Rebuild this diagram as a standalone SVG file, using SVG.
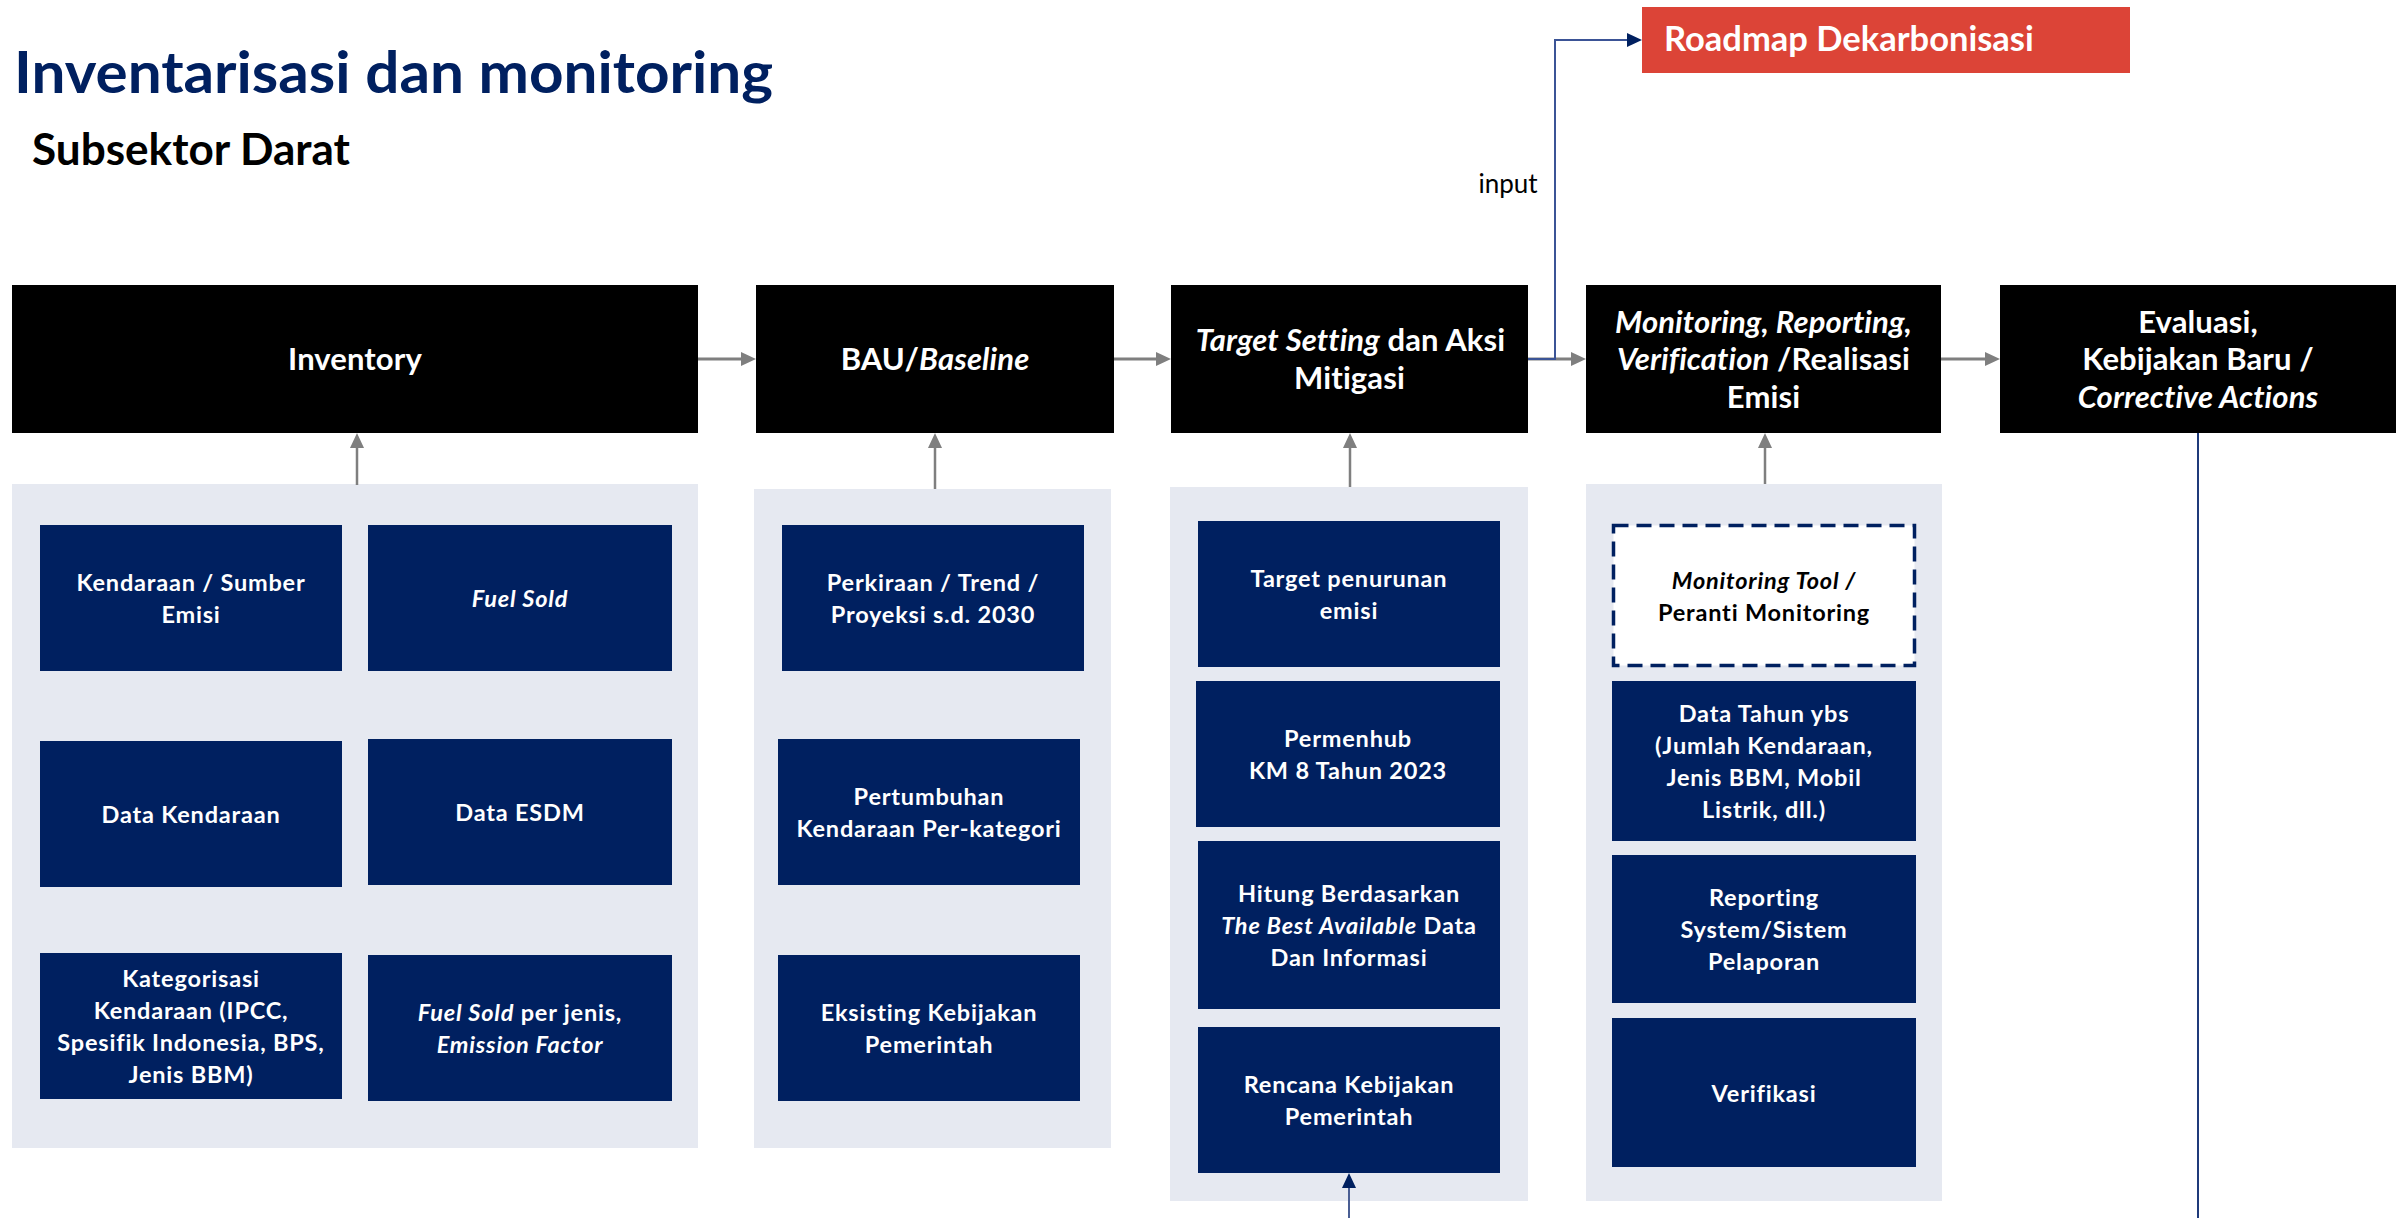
<svg xmlns="http://www.w3.org/2000/svg" width="2407" height="1218" viewBox="0 0 2407 1218">
<style>
  text{font-family:Lato,"Open Sans","Liberation Sans",sans-serif;font-weight:bold;}
  .hdr{fill:#000000;}
  .ht{fill:#ffffff;font-size:31px;letter-spacing:0.1px;text-anchor:middle;}
  .panel{fill:#E6E9F1;}
  .nb{fill:#002060;}
  .it{fill:#ffffff;font-size:23.5px;letter-spacing:0.8px;text-anchor:middle;}
  .i{font-style:italic;}
  .ga{stroke:#7F7F7F;stroke-width:3;fill:none;}
  .gu{stroke:#7F7F7F;stroke-width:2.5;fill:none;}
</style>
<defs>
  <marker id="mg" markerUnits="userSpaceOnUse" markerWidth="16" markerHeight="14" refX="1" refY="7" orient="auto">
    <path d="M0,0 L15,7 L0,14 z" fill="#7F7F7F"/>
  </marker>
  <marker id="mn" markerUnits="userSpaceOnUse" markerWidth="16" markerHeight="14" refX="1" refY="7" orient="auto">
    <path d="M0,0 L15,7 L0,14 z" fill="#002060"/>
  </marker>
</defs>
<rect width="2407" height="1218" fill="#ffffff"/>

<g id="title">
  <text x="14" y="93" font-size="58" fill="#002060" textLength="759" lengthAdjust="spacingAndGlyphs">Inventarisasi dan monitoring</text>
  <text x="32" y="165" font-size="43" fill="#000000" textLength="318" lengthAdjust="spacingAndGlyphs">Subsektor Darat</text>
</g>

<g id="panels">
  <rect class="panel" x="12" y="484" width="686" height="664"/>
  <rect class="panel" x="754" y="489" width="357" height="659"/>
  <rect class="panel" x="1170" y="487" width="358" height="714"/>
  <rect class="panel" x="1586" y="484" width="356" height="717"/>
</g>

<g id="connectors">
  <line class="ga" x1="698" y1="359" x2="742" y2="359" marker-end="url(#mg)"/>
  <line class="ga" x1="1114" y1="359" x2="1157" y2="359" marker-end="url(#mg)"/>
  <line class="ga" x1="1528" y1="359" x2="1572" y2="359" marker-end="url(#mg)"/>
  <line class="ga" x1="1941" y1="359" x2="1986" y2="359" marker-end="url(#mg)"/>
  <line class="gu" x1="357" y1="485" x2="357" y2="447" marker-end="url(#mg)"/>
  <line class="gu" x1="935" y1="489" x2="935" y2="447" marker-end="url(#mg)"/>
  <line class="gu" x1="1350" y1="487" x2="1350" y2="447" marker-end="url(#mg)"/>
  <line class="gu" x1="1765" y1="484" x2="1765" y2="447" marker-end="url(#mg)"/>
  <polyline points="1528,359 1555,359 1555,40 1628,40" fill="none" stroke="#3B5496" stroke-width="2" marker-end="url(#mn)"/>
  <line x1="2198" y1="433" x2="2198" y2="1218" stroke="#1F3A7A" stroke-width="2"/>
  <line x1="1349" y1="1218" x2="1349" y2="1187" stroke="#4A5E93" stroke-width="2" marker-end="url(#mn)"/>
</g>

<g id="label-input">
  <text x="1508" y="193" font-size="26" style="font-weight:normal" fill="#000000" text-anchor="middle">input</text>
</g>

<g id="roadmap">
  <rect x="1642" y="7" width="488" height="66" fill="#DC4437"/>
  <text x="1664" y="51" font-size="34.5" fill="#ffffff">Roadmap Dekarbonisasi</text>
</g>

<g id="inventory">
  <rect class="hdr" x="12" y="285" width="686" height="148"/>
  <text class="ht" x="355" y="370">Inventory</text>
</g>
<g id="bau">
  <rect class="hdr" x="756" y="285" width="358" height="148"/>
  <text class="ht" x="935" y="370">BAU/<tspan class="i">Baseline</tspan></text>
</g>
<g id="target">
  <rect class="hdr" x="1171" y="285" width="357" height="148"/>
  <text class="ht" x="1350.5" y="351"><tspan class="i">Target Setting</tspan> dan Aksi</text>
  <text class="ht" x="1349.5" y="389">Mitigasi</text>
</g>
<g id="mrv">
  <rect class="hdr" x="1586" y="285" width="355" height="148"/>
  <text class="ht i" x="1763.5" y="332.5">Monitoring, Reporting,</text>
  <text class="ht" x="1763.5" y="370"><tspan class="i">Verification</tspan> /Realisasi</text>
  <text class="ht" x="1763.5" y="407.5">Emisi</text>
</g>
<g id="evaluasi">
  <rect class="hdr" x="2000" y="285" width="396" height="148"/>
  <text class="ht" x="2198" y="332.5">Evaluasi,</text>
  <text class="ht" x="2198" y="370">Kebijakan Baru /</text>
  <text class="ht i" x="2198" y="407.5">Corrective Actions</text>
</g>

<g id="inv-kendaraan-sumber">
  <rect class="nb" x="40" y="525" width="302" height="146"/>
  <text class="it" x="191" y="591">Kendaraan / Sumber</text>
  <text class="it" x="191" y="623">Emisi</text>
</g>
<g id="inv-fuel-sold">
  <rect class="nb" x="368" y="525" width="304" height="146"/>
  <text class="it i" x="520" y="607">Fuel Sold</text>
</g>
<g id="inv-data-kendaraan">
  <rect class="nb" x="40" y="741" width="302" height="146"/>
  <text class="it" x="191" y="823">Data Kendaraan</text>
</g>
<g id="inv-data-esdm">
  <rect class="nb" x="368" y="739" width="304" height="146"/>
  <text class="it" x="520" y="821">Data ESDM</text>
</g>
<g id="inv-kategorisasi">
  <rect class="nb" x="40" y="953" width="302" height="146"/>
  <text class="it" x="191" y="987">Kategorisasi</text>
  <text class="it" x="191" y="1019">Kendaraan (IPCC,</text>
  <text class="it" x="191" y="1051">Spesifik Indonesia, BPS,</text>
  <text class="it" x="191" y="1083">Jenis BBM)</text>
</g>
<g id="inv-fuel-sold-jenis">
  <rect class="nb" x="368" y="955" width="304" height="146"/>
  <text class="it" x="520" y="1021"><tspan class="i">Fuel Sold</tspan> per jenis,</text>
  <text class="it i" x="520" y="1053">Emission Factor</text>
</g>

<g id="bau-perkiraan">
  <rect class="nb" x="782" y="525" width="302" height="146"/>
  <text class="it" x="933" y="591">Perkiraan / Trend /</text>
  <text class="it" x="933" y="623">Proyeksi s.d. 2030</text>
</g>
<g id="bau-pertumbuhan">
  <rect class="nb" x="778" y="739" width="302" height="146"/>
  <text class="it" x="929" y="805">Pertumbuhan</text>
  <text class="it" x="929" y="837">Kendaraan Per-kategori</text>
</g>
<g id="bau-eksisting">
  <rect class="nb" x="778" y="955" width="302" height="146"/>
  <text class="it" x="929" y="1021">Eksisting Kebijakan</text>
  <text class="it" x="929" y="1053">Pemerintah</text>
</g>

<g id="tgt-penurunan">
  <rect class="nb" x="1198" y="521" width="302" height="146"/>
  <text class="it" x="1349" y="587">Target penurunan</text>
  <text class="it" x="1349" y="619">emisi</text>
</g>
<g id="tgt-permenhub">
  <rect class="nb" x="1196" y="681" width="304" height="146"/>
  <text class="it" x="1348" y="747">Permenhub</text>
  <text class="it" x="1348" y="779">KM 8 Tahun 2023</text>
</g>
<g id="tgt-hitung">
  <rect class="nb" x="1198" y="841" width="302" height="168"/>
  <text class="it" x="1349" y="902">Hitung Berdasarkan</text>
  <text class="it" x="1349" y="934"><tspan class="i">The Best Available</tspan> Data</text>
  <text class="it" x="1349" y="966">Dan Informasi</text>
</g>
<g id="tgt-rencana">
  <rect class="nb" x="1198" y="1027" width="302" height="146"/>
  <text class="it" x="1349" y="1093">Rencana Kebijakan</text>
  <text class="it" x="1349" y="1125">Pemerintah</text>
</g>

<g id="mrv-tool">
  <rect x="1613.5" y="525.5" width="301" height="140" fill="#ffffff" stroke="#002060" stroke-width="3.5" stroke-dasharray="15 8"/>
  <text class="it i" x="1764" y="588.5" style="fill:#000000">Monitoring Tool /</text>
  <text class="it" x="1764" y="620.5" style="fill:#000000">Peranti Monitoring</text>
</g>
<g id="mrv-data-tahun">
  <rect class="nb" x="1612" y="681" width="304" height="160"/>
  <text class="it" x="1764" y="722">Data Tahun ybs</text>
  <text class="it" x="1764" y="754">(Jumlah Kendaraan,</text>
  <text class="it" x="1764" y="786">Jenis BBM, Mobil</text>
  <text class="it" x="1764" y="818">Listrik, dll.)</text>
</g>
<g id="mrv-reporting">
  <rect class="nb" x="1612" y="855" width="304" height="148"/>
  <text class="it" x="1764" y="906">Reporting</text>
  <text class="it" x="1764" y="938">System/Sistem</text>
  <text class="it" x="1764" y="970">Pelaporan</text>
</g>
<g id="mrv-verifikasi">
  <rect class="nb" x="1612" y="1018" width="304" height="149"/>
  <text class="it" x="1764" y="1101.5">Verifikasi</text>
</g>
</svg>
